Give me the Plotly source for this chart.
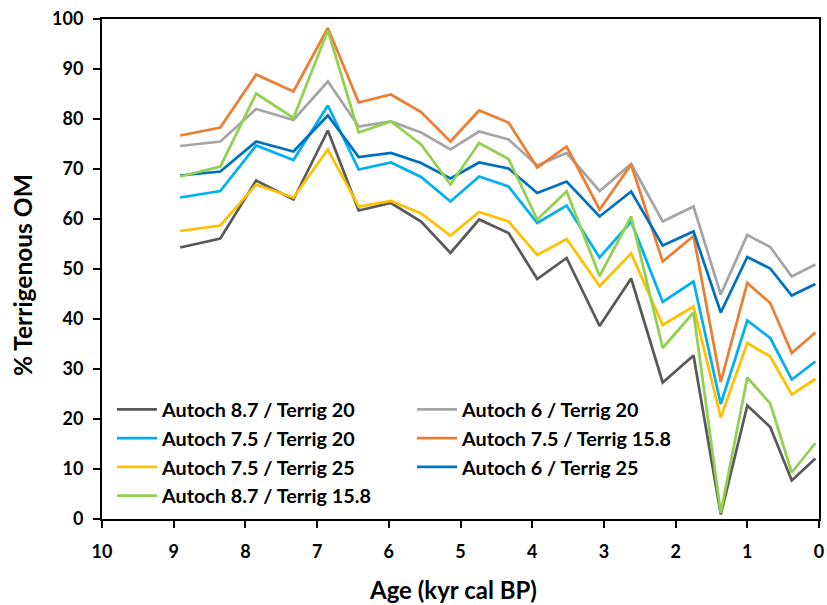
import plotly.graph_objects as go

age = [8.91, 8.35, 7.85, 7.33, 6.85, 6.42, 5.97, 5.55, 5.14, 4.74, 4.33,
       3.93, 3.52, 3.06, 2.62, 2.18, 1.75, 1.37, 1.00, 0.68, 0.38, 0.05]

a87_t20 = [54.3, 56.1, 67.7, 63.9, 77.7, 61.7, 63.2, 59.5, 53.2, 59.9, 57.2,
           48.0, 52.2, 38.6, 48.1, 27.3, 32.7, 0.9, 22.7, 18.4, 7.7, 12.1]
a6_t20 = [74.6, 75.5, 82.0, 79.8, 87.5, 78.5, 79.5, 77.3, 73.9, 77.5, 75.9,
          70.7, 73.2, 65.6, 71.0, 59.5, 62.5, 44.9, 56.8, 54.4, 48.5, 50.9]
a75_t20 = [64.3, 65.6, 74.7, 71.8, 82.7, 69.9, 71.3, 68.4, 63.5, 68.5, 66.5,
           59.2, 62.7, 52.3, 59.5, 43.4, 47.5, 23.0, 39.7, 36.2, 27.9, 31.5]
a75_t158 = [76.7, 78.3, 88.9, 85.5, 98.2, 83.3, 84.9, 81.4, 75.5, 81.7, 79.3,
            70.3, 74.5, 61.9, 70.9, 51.5, 56.6, 27.4, 47.2, 43.2, 33.2, 37.3]
a75_t25 = [57.6, 58.7, 66.9, 64.3, 73.9, 62.5, 63.6, 61.1, 56.7, 61.4, 59.5,
           52.8, 56.0, 46.6, 53.1, 38.8, 42.5, 20.3, 35.2, 32.5, 24.9, 28.0]
a6_t25 = [68.7, 69.5, 75.5, 73.5, 80.7, 72.4, 73.2, 71.2, 68.1, 71.3, 70.1,
          65.2, 67.5, 60.5, 65.5, 54.7, 57.5, 41.3, 52.4, 50.1, 44.7, 47.0]
a87_t158 = [68.5, 70.5, 85.1, 80.2, 97.7, 77.3, 79.5, 74.9, 66.9, 75.2, 72.0,
            59.9, 65.5, 48.6, 60.5, 34.2, 41.3, 1.2, 28.3, 23.1, 9.3, 15.2]

series_names = ["Autoch 8.7 / Terrig 20", "Autoch 6 / Terrig 20",
                "Autoch 7.5 / Terrig 20", "Autoch 7.5 / Terrig 15.8",
                "Autoch 7.5 / Terrig 25", "Autoch 6 / Terrig 25",
                "Autoch 8.7 / Terrig 15.8"]
series_values = [a87_t20, a6_t20, a75_t20, a75_t158, a75_t25, a6_t25, a87_t158]
colors = ["#595959", "#A5A5A5", "#00B0F0", "#ED7D31", "#FFC000", "#0070C0", "#92D050"]
legend_ids = ["legend", "legend2", "legend", "legend2", "legend", "legend2", "legend"]

x_ticks = [10, 9, 8, 7, 6, 5, 4, 3, 2, 1, 0]
y_ticks = [0, 10, 20, 30, 40, 50, 60, 70, 80, 90, 100]
x_title = "Age (kyr cal BP)"
y_title = "% Terrigenous OM"

FONT = "Lato"
fig = go.Figure()
for name, vals, col, lg in zip(series_names, series_values, colors, legend_ids):
    fig.add_trace(go.Scatter(x=age, y=vals, mode="lines", name=name,
                             line=dict(color=col, width=2.75), legend=lg))

# the page body margin is removed by post_script, so figure fills the window
W, H = 827, 605
L, R, T, B = 102, 8, 19, 86
pw, ph = W - L - R, H - T - B
plot_bottom = H - B

legend_common = dict(bgcolor="rgba(0,0,0,0)", itemwidth=40,
                     font=dict(family=FONT, size=19.8, color="#000000", weight="bold"),
                     xanchor="left", yanchor="top", orientation="v",
                     tracegroupgap=0, itemclick=False)

axis_common = dict(showgrid=False, zeroline=False, showline=True, linecolor="black",
                   linewidth=2, mirror=True, ticks="outside", ticklen=7, tickwidth=2,
                   tickcolor="black", ticklabeloverflow="allow", automargin=False,
                   tickfont=dict(family=FONT, size=18, color="#000000", weight="bold"))

fig.update_layout(
    width=W, height=H,
    margin=dict(l=L, r=R, t=T, b=B, autoexpand=False),
    paper_bgcolor="white", plot_bgcolor="white",
    font=dict(family=FONT, color="#000000"),
    legend=dict(x=(112 - L) / pw, y=(plot_bottom - 390) / ph, **legend_common),
    legend2=dict(x=(412 - L) / pw, y=(plot_bottom - 390) / ph, **legend_common),
    xaxis=dict(range=[10, 0], tickvals=x_ticks, ticktext=[str(v) for v in x_ticks],
               ticklabelstandoff=8, **axis_common),
    yaxis=dict(range=[0, 100], tickvals=y_ticks, ticktext=[str(v) for v in y_ticks],
               ticklabelstandoff=6, **axis_common),
)

fig.add_annotation(text="<b>" + x_title + "</b>", xref="paper", yref="paper",
                   x=(453 - L) / pw, y=(plot_bottom - 589) / ph,
                   xanchor="center", yanchor="middle", showarrow=False,
                   font=dict(family=FONT, size=24, color="#000000"))
fig.add_annotation(text="<b>" + y_title + "</b>", xref="paper", yref="paper",
                   x=(22 - L) / pw, y=(plot_bottom - 275) / ph, textangle=-90,
                   xanchor="center", yanchor="middle", showarrow=False,
                   font=dict(family=FONT, size=24.5, color="#000000"))

fig.write_html("out.html", config={"displayModeBar": False},
               post_script="document.body.style.margin='0';document.body.style.overflow='hidden';")
